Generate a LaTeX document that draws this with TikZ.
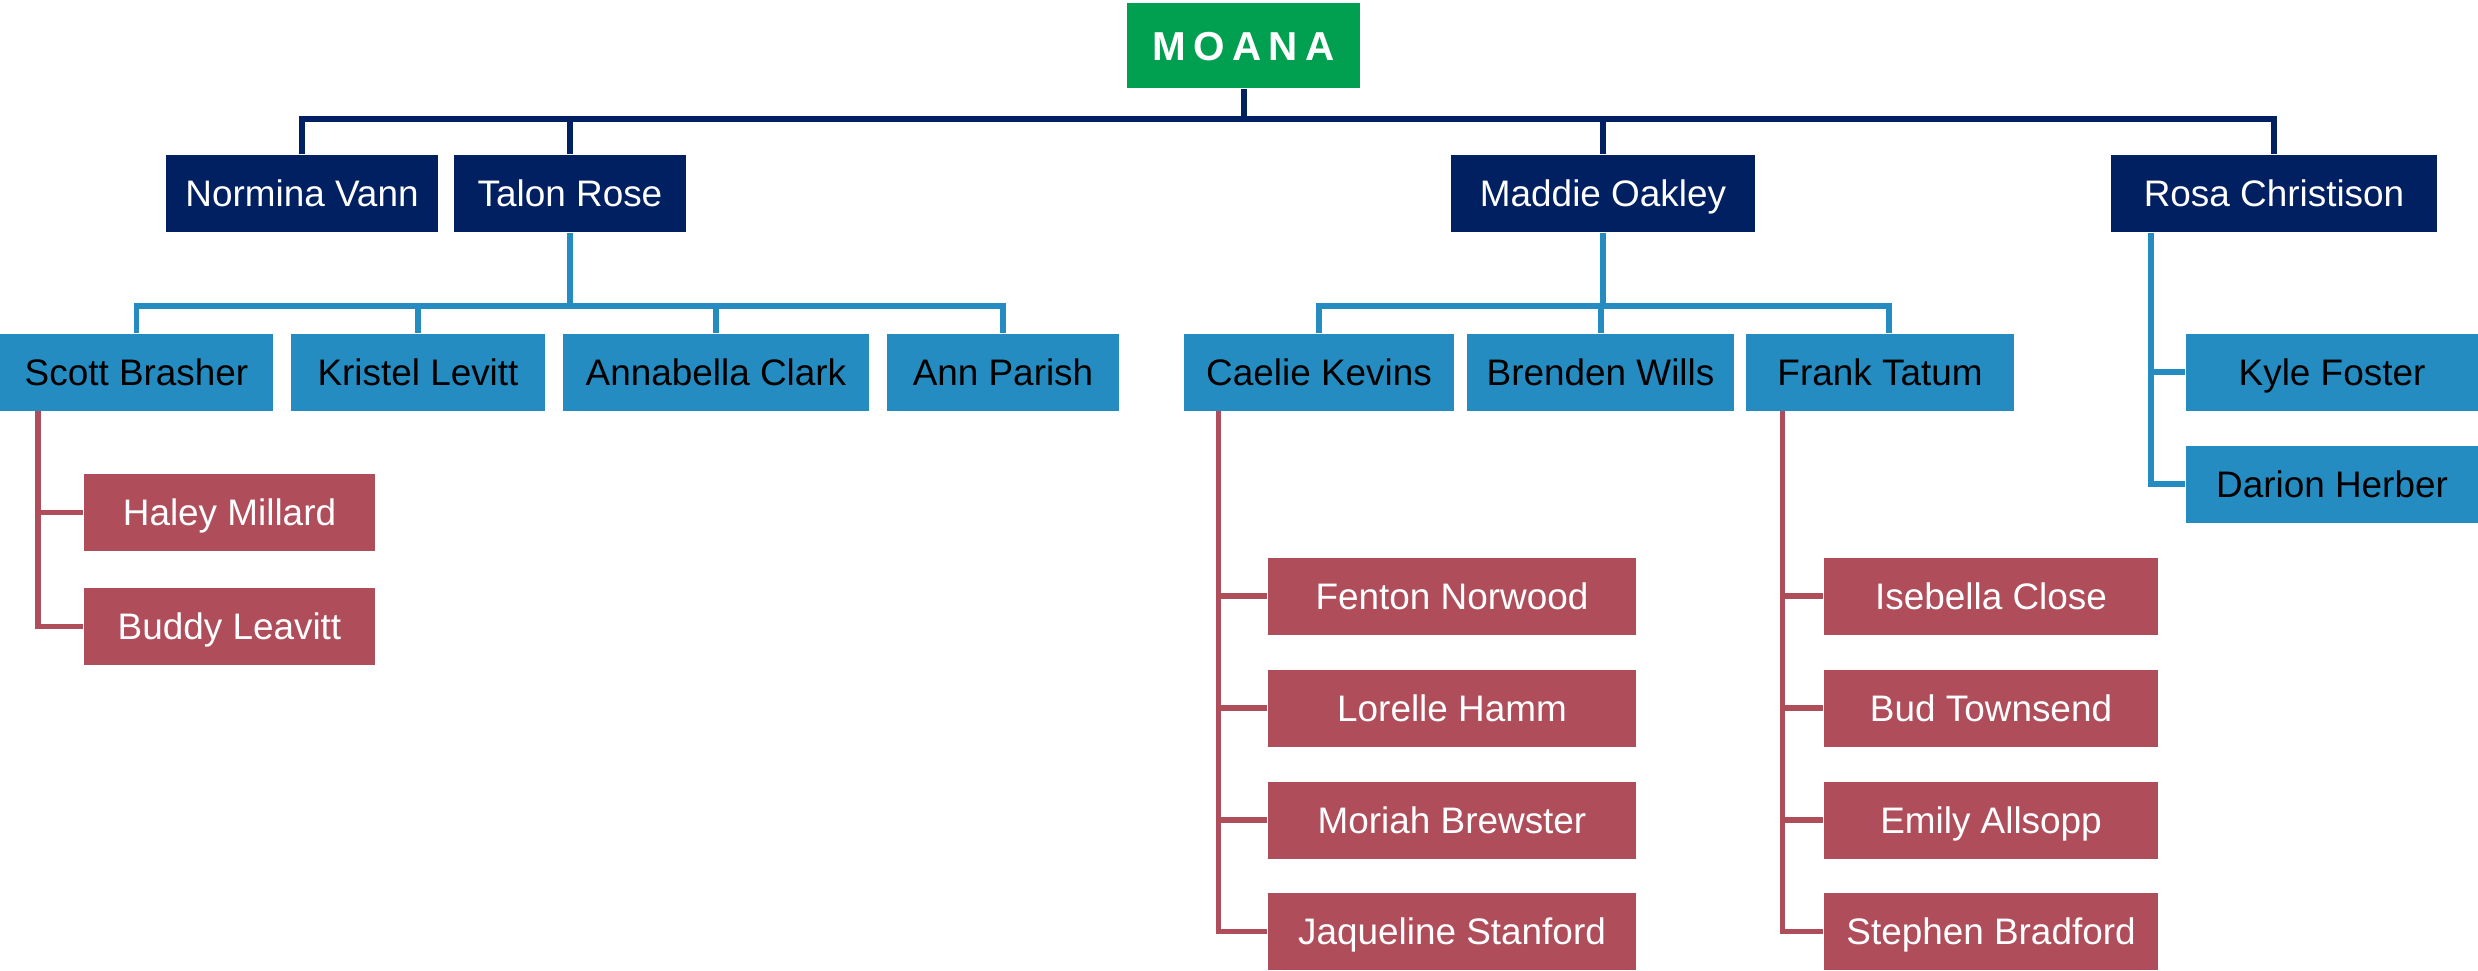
\documentclass[tikz,border=0pt]{standalone}
\usepackage{fontspec}
\setmainfont{Liberation Sans}
\newfontfamily\moanafont[LetterSpace=18]{Liberation Sans}
\definecolor{moanagreen}{RGB}{0,160,80}
\definecolor{navy}{RGB}{0,32,98}
\definecolor{teamblue}{RGB}{36,140,192}
\definecolor{crewred}{RGB}{176,77,90}
\tikzset{box/.style={inner sep=0pt, minimum height=0.77cm, text height=7.5pt, text depth=0pt, font=\fontsize{10.5}{12}\selectfont},
  root/.style={box, fill=moanagreen, text=white, minimum height=0.85cm, text height=8.3pt, font=\moanafont\bfseries\fontsize{11.5}{13}\selectfont},
  lead/.style={box, fill=navy, text=white},
  staff/.style={box, fill=teamblue, text=black},
  crew/.style={box, fill=crewred, text=white},
  navyline/.style={draw=navy, line width=1.7pt, line join=miter},
  blueline/.style={draw=teamblue, line width=1.7pt, line join=miter},
  redline/.style={draw=crewred, line width=1.6pt, line join=miter}}

\begin{document}
\begin{tikzpicture}
  \useasboundingbox (0,0) rectangle (24.78,-9.70);
  \node[root,  minimum width=2.33cm] (moana)     at (12.435,-0.455) {MOANA};
  \node[lead,  minimum width=2.72cm] (normina)   at ( 3.02, -1.935) {Normina Vann};
  \node[lead,  minimum width=2.32cm] (talon)     at ( 5.70, -1.935) {Talon Rose};
  \node[lead,  minimum width=3.04cm] (maddie)    at (16.03, -1.935) {Maddie Oakley};
  \node[lead,  minimum width=3.26cm] (rosa)      at (22.74, -1.935) {Rosa Christison};
  \node[staff, minimum width=2.73cm] (scott)     at ( 1.365,-3.72) {Scott Brasher};
  \node[staff, minimum width=2.54cm] (kristel)   at ( 4.18, -3.72) {Kristel Levitt};
  \node[staff, minimum width=3.06cm] (annabella) at ( 7.16, -3.72) {Annabella Clark};
  \node[staff, minimum width=2.32cm] (ann)       at (10.03, -3.72) {Ann Parish};
  \node[staff, minimum width=2.70cm] (caelie)    at (13.19, -3.72) {Caelie Kevins};
  \node[staff, minimum width=2.67cm] (brenden)   at (16.005,-3.72) {Brenden Wills};
  \node[staff, minimum width=2.68cm] (frank)     at (18.80, -3.72) {Frank Tatum};
  \node[staff, minimum width=2.92cm] (kyle)      at (23.32, -3.72) {Kyle Foster};
  \node[staff, minimum width=2.92cm] (darion)    at (23.32, -4.84) {Darion Herber};
  \node[crew,  minimum width=2.91cm] (haley)     at ( 2.295,-5.125) {Haley Millard};
  \node[crew,  minimum width=2.91cm] (buddy)     at ( 2.295,-6.265) {Buddy Leavitt};
  \node[crew,  minimum width=3.68cm] (fenton)    at (14.52, -5.96) {Fenton Norwood};
  \node[crew,  minimum width=3.68cm] (lorelle)   at (14.52, -7.08) {Lorelle Hamm};
  \node[crew,  minimum width=3.68cm] (moriah)    at (14.52, -8.20) {Moriah Brewster};
  \node[crew,  minimum width=3.68cm] (jaqueline) at (14.52, -9.315) {Jaqueline Stanford};
  \node[crew,  minimum width=3.34cm] (isebella)  at (19.91, -5.96) {Isebella Close};
  \node[crew,  minimum width=3.34cm] (bud)       at (19.91, -7.08) {Bud Townsend};
  \node[crew,  minimum width=3.34cm] (emily)     at (19.91, -8.20) {Emily Allsopp};
  \node[crew,  minimum width=3.34cm] (stephen)   at (19.91, -9.315) {Stephen Bradford};

  \coordinate (topbus)    at (12.435,-1.19);
  \coordinate (talonbus)  at ( 5.70, -3.06);
  \coordinate (maddiebus) at (16.03, -3.06);
  \coordinate (scotttap)  at ([xshift=0.39cm]scott.south west);
  \coordinate (caelietap) at ([xshift=0.35cm]caelie.south west);
  \coordinate (franktap)  at ([xshift=0.37cm]frank.south west);
  \coordinate (rosatap)   at ([xshift=0.41cm]rosa.south west);

  \draw[navyline] (moana.south) -- (topbus);
  \draw[navyline] (normina.north) |- (topbus) -| (rosa.north);
  \foreach \n in {talon,maddie}
    \draw[navyline] (\n.north) -- (\n.north |- topbus);

  \draw[blueline] (talon.south) -- (talonbus);
  \draw[blueline] (scott.north) |- (talonbus) -| (ann.north);
  \foreach \n in {kristel,annabella}
    \draw[blueline] (\n.north) -- (\n.north |- talonbus);
  \draw[blueline] (maddie.south) -- (maddiebus);
  \draw[blueline] (caelie.north) |- (maddiebus) -| ([xshift=0.09cm]frank.north);
  \draw[blueline] (brenden.north) -- (brenden.north |- maddiebus);
  \draw[blueline] (rosatap) |- (darion.west);
  \draw[blueline] (kyle.west) -- (kyle.west -| rosatap);

  \draw[redline] (scotttap) |- (buddy.west);
  \draw[redline] (haley.west) -- (haley.west -| scotttap);
  \draw[redline] (caelietap) |- (jaqueline.west);
  \foreach \n in {fenton,lorelle,moriah}
    \draw[redline] (\n.west) -- (\n.west -| caelietap);
  \draw[redline] (franktap) |- (stephen.west);
  \foreach \n in {isebella,bud,emily}
    \draw[redline] (\n.west) -- (\n.west -| franktap);
\end{tikzpicture}
\end{document}
